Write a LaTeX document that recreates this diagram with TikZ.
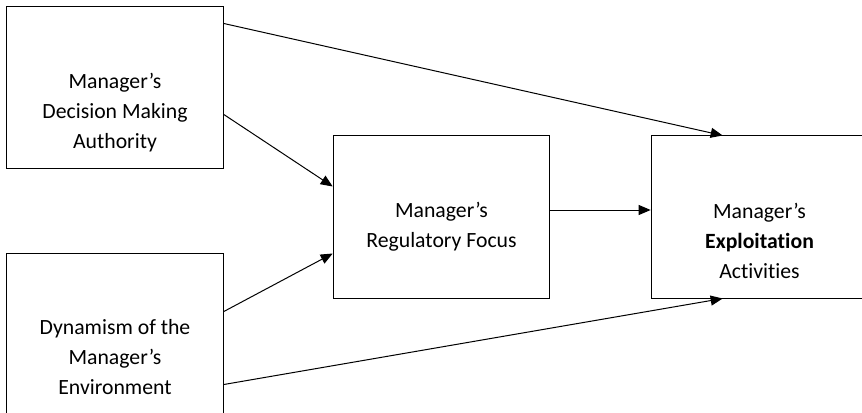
\documentclass[tikz,border=0pt]{standalone}
\usepackage{fontspec}
\setmainfont{Carlito}[Ligatures=NoCommon]
\usetikzlibrary{arrows.meta, calc}

\begin{document}
\begin{tikzpicture}[
            x = 0.75pt, y = -0.75pt, % one unit is one pixel
            > = {Triangle[length=9pt, width=7.5pt]}, % arrow head style
            line width = 0.75pt % line style
        ]

        \tikzstyle{box}=[
            draw = black,
            minimum width = 162.5pt,
            minimum height = 121.5pt,
            inner sep = 0pt
        ]
        \tikzstyle{txt}=[
            align = center,
            inner sep = 0pt,
            font = \fontsize{16.3}{22.5}\selectfont
        ]

        \path[use as bounding box, clip] (0,0) rectangle (862,413);

        \node[box] (dma) at (115,88) {};
        \node[box] (dyn) at (115,334) {};
        \node[box] (mid) at (441.5,217) {};
        \node[box] (exp) at (759.5,217) {};

        \node[txt] (dmat) at ($(dma.center)+(0,25)$) {Manager’s\\Decision Making\\Authority};
        \node[txt] (dynt) at ($(dyn.center)+(0,23)$) {Dynamism of the\\Manager’s\\Environment};
        \node[txt] (midt) at ($(mid.center)+(0,10)$) {Manager’s\\Regulatory Focus};
        \node[txt] (expt) at ($(exp.center)+(0,24)$) {Manager’s\\\textbf{Exploitation}\\Activities};

        \draw[->] ($(dma.north east)+(0,17)$) -- ($(exp.north west)+(72,0)$);
        \draw[->] ($(dma.north east)+(0,108)$) -- ($(mid.north west)+(0,51)$);
        \draw[->] ($(dyn.north east)+(0,59)$) -- ($(mid.south west)+(0,-45)$);
        \draw[->] ($(mid.east)+(0,-7)$) -- ($(exp.west)+(0,-7)$);
        \draw[->] ($(dyn.north east)+(0,132)$) -- ($(exp.south west)+(72,0)$);

\end{tikzpicture}
\end{document}
